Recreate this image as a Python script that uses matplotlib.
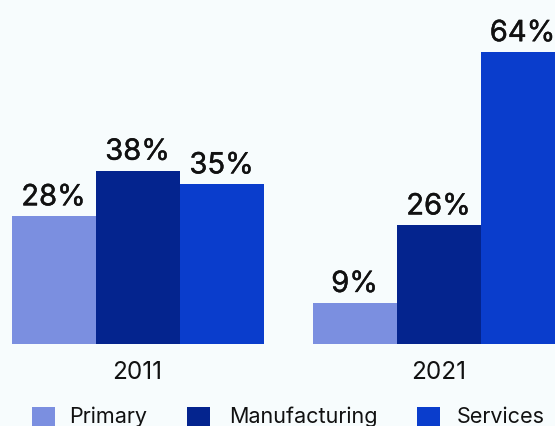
import numpy as np
import matplotlib.pyplot as plt
import matplotlib.patheffects as pe
from matplotlib.patches import Rectangle

plt.rcParams["font.family"] = ["Inter", "DejaVu Sans"]

# =========================
# DATA
# =========================
YEARS = ["2011", "2021"]
SECTORS = ["Primary", "Manufacturing", "Services"]
PRIMARY = [28, 9]
MANUFACTURING = [38, 26]
SERVICES = [35, 64]

COLORS = ["#7b8fe0", "#04248e", "#0a3dcc"]
BG = "#f7fcfd"
INK = "#111111"

W_PX, H_PX = 555, 426
fig = plt.figure(figsize=(W_PX / 100, H_PX / 100), dpi=100, facecolor=BG)

# axes runs to the top and right edges; the right group is cut off there
base_px = 82
ax = fig.add_axes([0, base_px / H_PX, 1, 1 - base_px / H_PX])
ax.set_facecolor(BG)

group_px = 301.0
left_px = 137.5
ax.set_xlim(-left_px / group_px, (W_PX - left_px) / group_px)
ax.set_ylim(0, (H_PX - base_px) / 4.56)

x = np.arange(len(YEARS))
width = 84 / group_px
series = [PRIMARY, MANUFACTURING, SERVICES]
offsets = [-width, 0, width]

# a touch heavier than regular for the value labels
heavy = [pe.withStroke(linewidth=0.3, foreground=INK)]

for vals, off, col in zip(series, offsets, COLORS):
    bars = ax.bar(x + off, vals, width=width, color=col, linewidth=0)
    for b, v in zip(bars, vals):
        ax.annotate(
            f"{v}%",
            (b.get_x() + b.get_width() / 2, v),
            xytext=(0, 11),
            textcoords="offset pixels",
            ha="center",
            va="baseline",
            fontsize=21,
            color=INK,
            path_effects=heavy,
            annotation_clip=False,
        )

ax.set_xticks(x)
ax.set_xticklabels(YEARS, fontsize=17.5, color=INK)
ax.tick_params(axis="x", length=0, pad=12)
ax.set_yticks([])
for s in ax.spines.values():
    s.set_visible(False)

# legend row along the bottom edge
sq_x = [32, 187, 417]
txt_x = [69, 229, 457]
for sx, tx, name, col in zip(sq_x, txt_x, SECTORS, COLORS):
    fig.patches.append(
        Rectangle(
            (sx / W_PX, 0),
            23 / W_PX,
            (H_PX - 407) / H_PX,
            transform=fig.transFigure,
            facecolor=col,
            linewidth=0,
        )
    )
    fig.text(
        tx / W_PX,
        (H_PX - 423) / H_PX,
        name,
        fontsize=15.5,
        color=INK,
        ha="left",
        va="baseline",
    )

fig.savefig("out.png", dpi=100, facecolor=BG)
